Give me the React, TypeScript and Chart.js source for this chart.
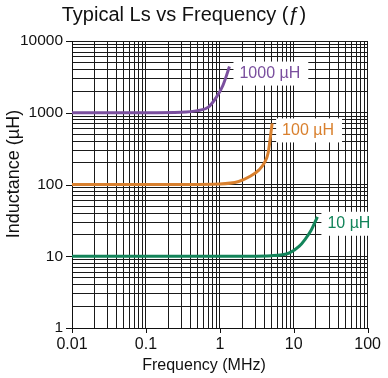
import React, { useEffect, useRef } from 'react';
import { Chart, registerables } from 'chart.js';

Chart.register(...registerables);

const TITLE = 'Typical Ls vs Frequency (ƒ)';
const X_TITLE = 'Frequency (MHz)';
const Y_TITLE = 'Inductance (µH)';

const X_MAJOR = [0.01, 0.1, 1, 10, 100];
const X_TICK_LABELS = ['0.01', '0.1', '1', '10', '100'];
const Y_MAJOR = [1, 10, 100, 1000, 10000];
const Y_TICK_LABELS = ['1', '10', '100', '1000', '10000'];
const MINOR_STEPS = [1, 2, 3, 4, 5, 6, 7, 8, 9];

const SERIES_NAMES = ['1000 µH', '100 µH', '10 µH'];
const FREQ_1000 = [0.01, 0.1, 0.3, 0.5, 0.7, 0.9, 1.1, 1.35];
const L_1000 = [1000, 1000, 1015, 1070, 1200, 1650, 2400, 4400];
const FREQ_100 = [0.01, 0.1, 1, 1.8, 2.5, 3.4, 4.0, 4.5, 5.1];
const L_100 = [100, 100, 102, 110, 128, 160, 200, 275, 710];
const FREQ_10 = [0.01, 1, 5, 8.7, 11.9, 14, 17.2, 20.9];
const L_10 = [10, 10, 10.2, 11.1, 13.8, 16.8, 23, 35.5];
const COLORS = ['#7a4f9e', '#d9802e', '#13845a'];

const FONT = '"Liberation Sans", Arial, sans-serif';

const buildTicks = (majors: number[]) => {
  const vals: number[] = [];
  majors.forEach((m, i) => {
    if (i === majors.length - 1) vals.push(m);
    else MINOR_STEPS.forEach((s) => vals.push(m * s));
  });
  return vals;
};

const labelFor = (majors: number[], labels: string[], value: number) => {
  const i = majors.findIndex((m) => Math.abs(m - value) / m < 1e-6);
  return i >= 0 ? labels[i] : '';
};

const overlay = {
  id: 'overlay',
  afterDraw(chart: any) {
    const { ctx, chartArea, scales } = chart;
    const x = scales.x;
    const y = scales.y;
    ctx.save();
    ctx.strokeStyle = '#111';
    ctx.lineWidth = 1;
    X_MAJOR.forEach((v) => {
      const px = Math.round(x.getPixelForValue(v)) + 0.5;
      ctx.beginPath();
      ctx.moveTo(px, chartArea.bottom);
      ctx.lineTo(px, chartArea.bottom + 5);
      ctx.stroke();
    });
    Y_MAJOR.forEach((v) => {
      const py = Math.round(y.getPixelForValue(v)) + 0.5;
      ctx.beginPath();
      ctx.moveTo(chartArea.left - 6, py);
      ctx.lineTo(chartArea.left, py);
      ctx.stroke();
    });

    ctx.font = '16px ' + FONT;
    ctx.textBaseline = 'middle';
    ctx.textAlign = 'left';
    chart.data.datasets.forEach((ds: any, i: number) => {
      const meta = chart.getDatasetMeta(i);
      const last = meta.data[meta.data.length - 1];
      const tx = last.x + 10;
      const ty = last.y + 7;
      const w = ctx.measureText(ds.label).width;
      ctx.fillStyle = '#fff';
      ctx.fillRect(tx - 6, ty - 12, w + 14, 24);
      ctx.fillStyle = COLORS[i];
      ctx.fillText(ds.label, tx, ty);
    });

    ctx.fillStyle = '#111';
    ctx.textAlign = 'center';
    ctx.font = '16px ' + FONT;
    ctx.fillText(X_TITLE, 204, 366);
    ctx.translate(14, 174);
    ctx.rotate(-Math.PI / 2);
    ctx.font = '18px ' + FONT;
    ctx.fillText(Y_TITLE, 0, 0);
    ctx.restore();
  },
};

export default function App() {
  const ref = useRef<HTMLCanvasElement | null>(null);
  useEffect(() => {
    if (!ref.current) return;
    const mk = (f: number[], l: number[]) => f.map((v, i) => ({ x: v, y: l[i] }));
    const chart = new Chart(ref.current, {
      type: 'line',
      data: {
        datasets: [
          { label: SERIES_NAMES[0], data: mk(FREQ_1000, L_1000), borderColor: COLORS[0] },
          { label: SERIES_NAMES[1], data: mk(FREQ_100, L_100), borderColor: COLORS[1] },
          { label: SERIES_NAMES[2], data: mk(FREQ_10, L_10), borderColor: COLORS[2] },
        ].map((d) => ({
          ...d,
          borderWidth: 3,
          pointRadius: 0,
          fill: false,
          cubicInterpolationMode: 'monotone' as const,
        })),
      },
      options: {
        responsive: false,
        animation: false,
        layout: { padding: { left: 0, right: 20, top: 0, bottom: 0 } },
        plugins: {
          legend: { display: false },
          tooltip: { enabled: false },
          title: {
            display: true,
            text: TITLE,
            color: '#111',
            font: { family: FONT, size: 20, weight: 'normal' },
            padding: { top: 3, bottom: 14 },
          },
        },
        scales: {
          x: {
            type: 'logarithmic',
            min: 0.01,
            max: 100,
            afterBuildTicks: (scale: any) => {
              scale.ticks = buildTicks(X_MAJOR).map((v) => ({ value: v }));
            },
            afterFit: (scale: any) => {
              scale.height = 50;
            },
            ticks: {
              autoSkip: false,
              maxRotation: 0,
              padding: 7,
              color: '#111',
              font: { family: FONT, size: 16 },
              callback: (v: any) => labelFor(X_MAJOR, X_TICK_LABELS, Number(v)),
            },
            grid: { color: '#1a1a1a', lineWidth: 1, drawTicks: false },
            border: { display: true, color: '#111', width: 1 },
          },
          y: {
            type: 'logarithmic',
            min: 1,
            max: 10000,
            afterBuildTicks: (scale: any) => {
              scale.ticks = buildTicks(Y_MAJOR).map((v) => ({ value: v }));
            },
            afterFit: (scale: any) => {
              scale.width = 72;
            },
            ticks: {
              autoSkip: false,
              padding: 9,
              color: '#111',
              font: { family: FONT, size: 15.5 },
              callback: (v: any) => labelFor(Y_MAJOR, Y_TICK_LABELS, Number(v)),
            },
            grid: { color: '#1a1a1a', lineWidth: 1, drawTicks: false },
            border: { display: true, color: '#111', width: 1 },
          },
        },
      },
      plugins: [overlay],
    } as any);
    return () => chart.destroy();
  }, []);
  return (
    <div style={{ position: 'absolute', left: 0, top: 0, width: 388, height: 378, background: '#fff' }}>
      <canvas ref={ref} width={388} height={378} />
    </div>
  );
}
